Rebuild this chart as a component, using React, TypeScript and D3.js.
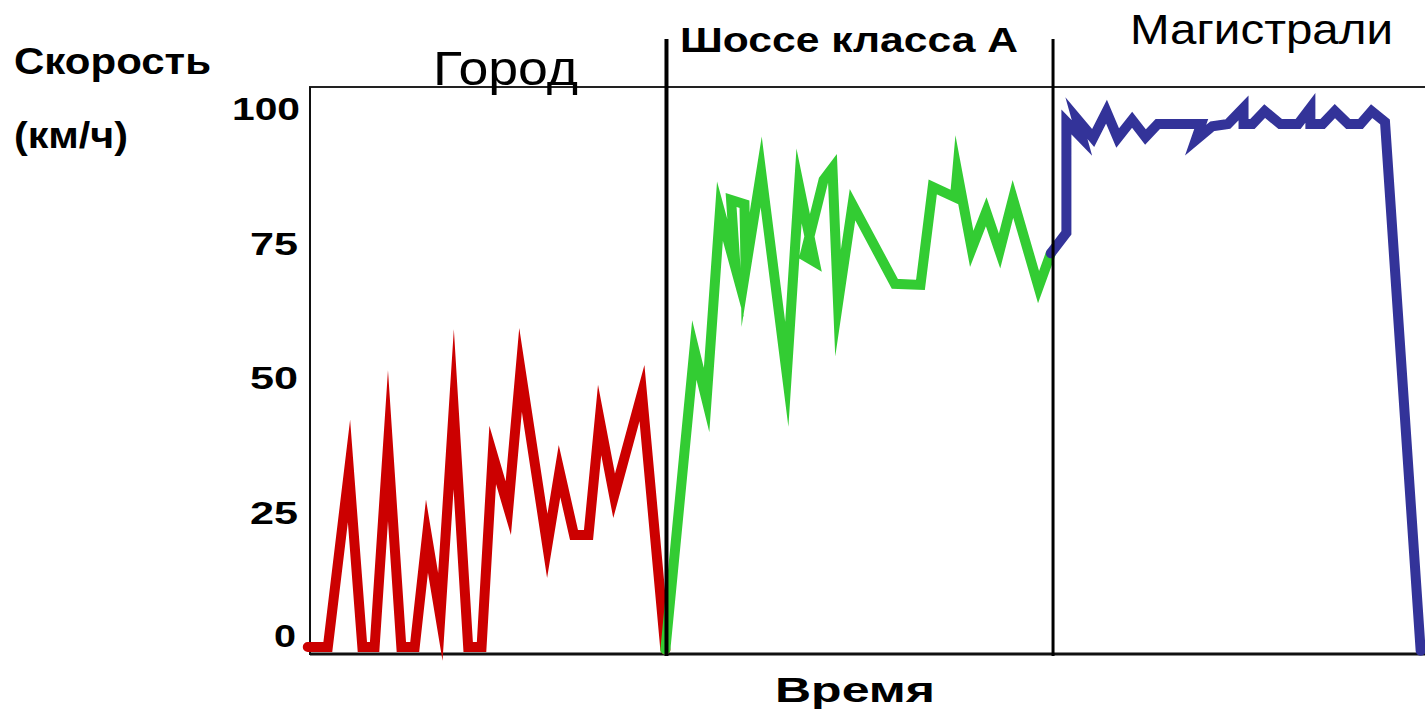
import React from "react";
import * as d3 from "d3";

// ---- data (time in % of trip, speed in km/h) ----
const cityTime = [-0.2, 1.6, 3.5, 4.7, 5.8, 7.0, 8.2, 9.4, 10.5, 11.7, 12.9, 14.2, 15.4, 16.4, 17.8, 18.9, 21.3, 22.4, 23.7, 25.0, 26.0, 27.3, 29.8, 31.9];
const citySpeed = [0, 0, 32.7, 0, 0, 37.4, 0, 0, 20.6, 5.6, 44.2, 0, 0, 35.7, 25.8, 51.5, 18.8, 32.7, 20.8, 20.8, 42.2, 28.1, 47.2, -0.5];

const roadTime = [31.9, 34.5, 35.6, 36.8, 38.2, 37.8, 39.0, 39.1, 40.5, 42.8, 43.9, 45.3, 44.4, 46.1, 46.9, 47.4, 48.7, 52.5, 54.8, 55.9, 57.9, 58.1, 59.4, 60.7, 61.9, 63.1, 65.4, 66.5];
const roadSpeed = [-0.5, 55.2, 45.9, 81.0, 70.4, 83.1, 82.3, 70.1, 88.3, 50.7, 85.7, 71.6, 72.7, 86.8, 89.0, 63.9, 82.2, 67.5, 67.3, 85.5, 83.6, 88.3, 74.0, 80.9, 73.6, 83.3, 66.9, 73.2];

const motorTime = [66.5, 67.9, 67.9, 69.3, 68.8, 70.3, 71.5, 72.5, 73.8, 75.0, 76.1, 80.0, 79.5, 81.0, 82.4, 83.8, 83.8, 84.6, 85.7, 87.1, 88.7, 89.8, 89.8, 90.9, 92.0, 93.2, 94.3, 95.3, 96.5, 99.7];
const motorSpeed = [73.2, 77.0, 97.6, 94.6, 98.3, 94.6, 99.5, 94.6, 98.0, 94.8, 97.2, 97.2, 94.2, 96.8, 97.2, 100.2, 97.2, 97.2, 99.6, 97.2, 97.2, 100.2, 97.2, 97.2, 99.6, 97.2, 97.2, 99.6, 97.6, -0.7];

const yTicks = [0, 25, 50, 75, 100];
const zoneBounds = [32.0, 66.7];
const zoneNames = ["Город", "Шоссе класса А", "Магистрали"];

const W = 1425;
const H = 715;

export default function App() {
  const x = d3.scaleLinear().domain([0, 100]).range([310, 1424]);
  const y = d3.scaleLinear().domain([0, 100]).range([647, 109]);

  const line = d3
    .line<[number, number]>()
    .x((d) => x(d[0]))
    .y((d) => y(d[1]));

  const zip = (a: number[], b: number[]) => a.map((t, i) => [t, b[i]] as [number, number]);

  const series = [
    { pts: zip(cityTime, citySpeed), color: "#CC0000" },
    { pts: zip(roadTime, roadSpeed), color: "#33CC33" },
    { pts: zip(motorTime, motorSpeed), color: "#333399" },
  ];

  const font = "Arial, 'Liberation Sans', Helvetica, sans-serif";
  const plotTop = 87;
  const plotBottom = 654;
  const plotLeft = 310;

  const tickLabel = [
    { v: 100, w: 68, x: 300, dy: 11 },
    { v: 75, w: 48, x: 298, dy: 11 },
    { v: 50, w: 48, x: 298, dy: 11 },
    { v: 25, w: 48, x: 298, dy: 11 },
    { v: 0, w: 22, x: 296, dy: 0 },
  ];

  return (
    <svg
      width={W}
      height={H}
      style={{ position: "absolute", left: 0, top: 0, background: "#fff" }}
      fontFamily={font}
    >
      <rect width={W} height={H} fill="#fff" />
      {/* frame */}
      <line x1={plotLeft - 1} x2={W} y1={plotTop} y2={plotTop} stroke="#222" strokeWidth={2} />
      <line x1={plotLeft} x2={plotLeft} y1={plotTop} y2={plotBottom + 1} stroke="#111" strokeWidth={2} />
      <line x1={plotLeft} x2={W} y1={plotBottom} y2={plotBottom} stroke="#111" strokeWidth={3} />

      {/* series */}
      {series.map((s, i) => (
        <path
          key={i}
          d={line(s.pts) || ""}
          fill="none"
          stroke={s.color}
          strokeWidth={10}
          strokeLinejoin="miter"
          strokeMiterlimit={20}
          strokeLinecap="round"
        />
      ))}

      {/* zone dividers */}
      {zoneBounds.map((b, i) => (
        <line
          key={i}
          x1={x(b)}
          x2={x(b)}
          y1={39}
          y2={plotBottom + 2}
          stroke="#000"
          strokeWidth={i === 0 ? 4 : 3}
        />
      ))}

      {/* y tick labels */}
      {yTicks.map((v) => {
        const t = tickLabel.find((d) => d.v === v)!;
        return (
          <text
            key={v}
            x={t.x}
            y={y(v) + t.dy}
            textAnchor="end"
            fontSize={32}
            fontWeight="bold"
            textLength={t.w}
            lengthAdjust="spacingAndGlyphs"
          >
            {v}
          </text>
        );
      })}

      {/* axis titles */}
      <text x={14} y={74} fontSize={36} fontWeight="bold" textLength={197} lengthAdjust="spacingAndGlyphs">
        Скорость
      </text>
      <text x={14} y={148} fontSize={36} fontWeight="bold" textLength={114} lengthAdjust="spacingAndGlyphs">
        (км/ч)
      </text>
      <text x={775} y={702} fontSize={35} fontWeight="bold" textLength={160} lengthAdjust="spacingAndGlyphs">
        Время
      </text>

      {/* zone names */}
      <text x={433} y={85} fontSize={48} textLength={145} lengthAdjust="spacingAndGlyphs">
        {zoneNames[0]}
      </text>
      <text x={680} y={52} fontSize={35} fontWeight="bold" textLength={338} lengthAdjust="spacingAndGlyphs">
        {zoneNames[1]}
      </text>
      <text x={1130} y={44} fontSize={42} textLength={263} lengthAdjust="spacingAndGlyphs">
        {zoneNames[2]}
      </text>
    </svg>
  );
}
